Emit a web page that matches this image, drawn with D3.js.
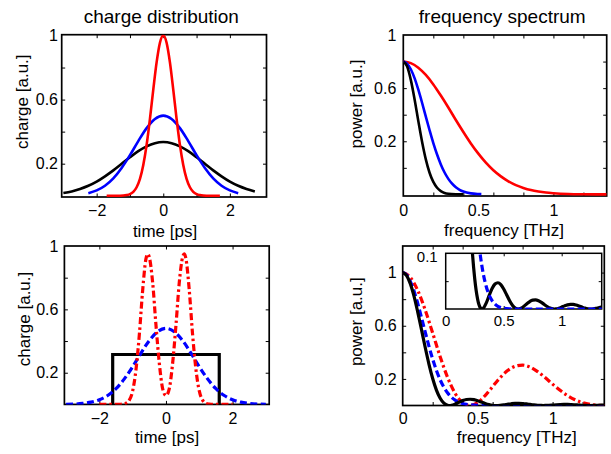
<!DOCTYPE html>
<html>
<head>
<meta charset="utf-8">
<script src="https://cdn.jsdelivr.net/npm/d3@7"></script>
<style>
  body { margin: 0; background: #fff; }
  svg { display: block; }
</style>
</head>
<body>
<svg id="chart" width="611" height="454"></svg>
<script>
// values

// top left: charge distribution
const tBlackTop = [-3, -2.75, -2.5, -2.25, -2, -1.75, -1.5, -1.25, -1, -0.75, -0.5, -0.25, 0,
                   0.25, 0.5, 0.75, 1, 1.25, 1.5, 1.75, 2, 2.25, 2.5, 2.75];
const qBlackTop = [0.017, 0.027, 0.042, 0.062, 0.088, 0.121, 0.158, 0.199, 0.240, 0.278, 0.308, 0.328, 0.335,
                   0.328, 0.308, 0.278, 0.240, 0.199, 0.158, 0.121, 0.088, 0.062, 0.042, 0.027];
const tBlueTop = [-2.25, -2, -1.75, -1.5, -1.25, -1, -0.75, -0.5, -0.25, 0,
                  0.25, 0.5, 0.75, 1, 1.25, 1.5, 1.75, 2, 2.25];
const qBlueTop = [0.016, 0.033, 0.062, 0.108, 0.173, 0.253, 0.341, 0.422, 0.479, 0.5,
                  0.479, 0.422, 0.341, 0.253, 0.173, 0.108, 0.062, 0.033, 0.016];
const tRedTop = [-1.7, -1.5, -1.3, -1.2, -1.1, -1, -0.9, -0.8, -0.7, -0.6, -0.5, -0.4, -0.3, -0.2, -0.1, 0,
                 0.1, 0.2, 0.3, 0.4, 0.5, 0.6, 0.7, 0.8, 0.9, 1, 1.1, 1.2, 1.3, 1.5, 1.7];
const qRedTop = [0, 0, 0, 0.001, 0.004, 0.010, 0.024, 0.053, 0.105, 0.192, 0.317, 0.480, 0.662, 0.832, 0.955, 1,
                 0.955, 0.832, 0.662, 0.480, 0.317, 0.192, 0.105, 0.053, 0.024, 0.010, 0.004, 0.001, 0, 0, 0];

// top right: frequency spectrum
const fBlackTop = [0, 0.025, 0.05, 0.075, 0.1, 0.125, 0.15, 0.175, 0.2, 0.225, 0.25, 0.275, 0.3, 0.35, 0.4];
const pBlackTop = [0.8, 0.764, 0.662, 0.517, 0.353, 0.197, 0.064, -0.037, -0.106, -0.150, -0.175, -0.189, -0.195, -0.199, -0.2];
const fBlueTop = [0, 0.025, 0.05, 0.075, 0.1, 0.125, 0.15, 0.175, 0.2, 0.225, 0.25, 0.275, 0.3, 0.325, 0.35,
                  0.375, 0.4, 0.45, 0.5, 0.52];
const pBlueTop = [0.8, 0.785, 0.742, 0.675, 0.588, 0.490, 0.385, 0.283, 0.186, 0.100, 0.026, -0.035, -0.083, -0.119, -0.146,
                  -0.165, -0.178, -0.192, -0.197, -0.198];
const fRedTop = [0, 0.05, 0.1, 0.15, 0.2, 0.25, 0.3, 0.35, 0.4, 0.45, 0.5, 0.55, 0.6, 0.65, 0.7, 0.75, 0.8,
                 0.85, 0.9, 0.95, 1, 1.1, 1.2, 1.355];
const pRedTop = [0.8, 0.788, 0.754, 0.699, 0.628, 0.544, 0.454, 0.360, 0.270, 0.184, 0.107, 0.039, -0.018, -0.064, -0.101, -0.130, -0.151,
                 -0.167, -0.178, -0.186, -0.191, -0.197, -0.199, -0.2];

// bottom left: flat top, gaussian and double peak
const tBlackBot = [-1.6, -1.6, 1.6, 1.6];
const qBlackBot = [0, 0.315, 0.315, 0];
const tBlueBot = [-3, -2.75, -2.5, -2.25, -2, -1.75, -1.5, -1.25, -1, -0.75, -0.5, -0.25, 0,
                  0.25, 0.5, 0.75, 1, 1.25, 1.5, 1.75, 2, 2.25, 2.5, 2.75, 3];
const qBlueBot = [0.001, 0.002, 0.006, 0.014, 0.029, 0.056, 0.099, 0.161, 0.238, 0.324, 0.403, 0.459, 0.48,
                  0.459, 0.403, 0.324, 0.238, 0.161, 0.099, 0.056, 0.029, 0.014, 0.006, 0.002, 0.001];
const tRedBot = [-2, -1.6, -1.4, -1.3, -1.2, -1.1, -1, -0.9, -0.8, -0.7, -0.6, -0.55, -0.5, -0.4, -0.3, -0.2, -0.1, 0,
                 0.1, 0.2, 0.3, 0.4, 0.5, 0.55, 0.6, 0.7, 0.8, 0.9, 1, 1.1, 1.2, 1.3, 1.4, 1.6, 2];
const qRedBot = [0, 0, 0, 0.002, 0.007, 0.027, 0.085, 0.22, 0.44, 0.72, 0.92, 0.95, 0.93, 0.77, 0.50, 0.26, 0.10, 0.055,
                 0.10, 0.26, 0.50, 0.77, 0.93, 0.95, 0.92, 0.72, 0.44, 0.22, 0.085, 0.027, 0.007, 0.002, 0, 0, 0];

// bottom right: spectra (also used by the inset)
const fBlackBot = [0, 0.025, 0.05, 0.075, 0.1, 0.125, 0.15, 0.175, 0.2, 0.225, 0.25, 0.275, 0.3, 0.3125, 0.325,
                   0.35, 0.375, 0.4, 0.425, 0.45, 0.475, 0.5, 0.525, 0.55, 0.575, 0.6, 0.625, 0.65, 0.675,
                   0.7, 0.725, 0.75, 0.775, 0.8, 0.825, 0.85, 0.875, 0.9, 0.925, 0.9375, 0.95, 0.975,
                   1, 1.025, 1.05, 1.075, 1.1, 1.125, 1.15, 1.175, 1.2, 1.225, 1.25, 1.275, 1.3, 1.325, 1.35];
const pBlackBot = [1, 0.979, 0.919, 0.825, 0.705, 0.573, 0.438, 0.312, 0.203, 0.116, 0.0547, 0.0177, 0.0017, 0, 0.0015,
                   0.0109, 0.0243, 0.0367, 0.0448, 0.0471, 0.0437, 0.0358, 0.0256, 0.0153, 0.0069, 0.0017, 0, 0.0015, 0.0050,
                   0.0095, 0.0134, 0.0159, 0.0164, 0.0149, 0.0119, 0.0081, 0.0045, 0.0017, 0.0002, 0, 0.0002, 0.0014,
                   0.0034, 0.0056, 0.0074, 0.0083, 0.0082, 0.0071, 0.0053, 0.0034, 0.0016, 0.0004, 0, 0.0004, 0.0014, 0.0026, 0.0039];
const fBlueBot = [0, 0.025, 0.05, 0.075, 0.1, 0.125, 0.15, 0.175, 0.2, 0.225, 0.25, 0.275, 0.3, 0.325, 0.35,
                  0.375, 0.4, 0.425, 0.45, 0.475, 0.5, 0.55, 0.6, 1.35];
const pBlueBot = [1, 0.984, 0.936, 0.863, 0.769, 0.663, 0.553, 0.447, 0.349, 0.264, 0.193, 0.137, 0.094, 0.062, 0.040,
                  0.025, 0.015, 0.0087, 0.0049, 0.0027, 0.0014, 0.0003, 0, 0];
const fRedBot = [0, 0.05, 0.1, 0.15, 0.2, 0.25, 0.3, 0.35, 0.4, 0.45, 0.5, 0.55, 0.6, 0.65, 0.7, 0.75, 0.8,
                 0.85, 0.9, 0.95, 1, 1.05, 1.1, 1.15, 1.2, 1.25, 1.3, 1.35];
const pRedBot = [1, 0.965, 0.867, 0.719, 0.545, 0.367, 0.210, 0.091, 0.021, 0.0001, 0.022, 0.075, 0.142, 0.209, 0.263, 0.295, 0.304,
                 0.289, 0.255, 0.210, 0.161, 0.114, 0.074, 0.043, 0.021, 0.008, 0.002, 0];

const FONT = '"Liberation Sans", Arial, Helvetica, sans-serif';
const svg = d3.select("#chart");
const fmt = d => (d < 0 ? "\u2212" + Math.abs(d) : String(d));
const zip = (xs, ys) => xs.map((v, i) => [v, ys[i]]);

// one set of axes: box, inward ticks on all sides, tick labels
function panel(o) {
  const x = d3.scaleLinear().domain(o.xDomain).range(o.xRange);
  const y = d3.scaleLinear().domain(o.yDomain).range(o.yRange);
  const [x0, x1] = o.xRange, [y0, y1] = o.yRange;
  const g = svg.append("g");

  svg.append("clipPath").attr("id", "clip-" + o.id)
    .append("rect").attr("x", x0).attr("y", y1).attr("width", x1 - x0).attr("height", y0 - y1);

  if (o.fill) g.append("rect").attr("x", x0).attr("y", y1).attr("width", x1 - x0).attr("height", y0 - y1).attr("fill", "#fff");

  const tk = o.tickLen || 3.5;
  [[d3.axisBottom(x).tickValues(o.xTicks), `translate(0,${y0})`],
   [d3.axisTop(x).tickValues(o.xTicks), `translate(0,${y1})`],
   [d3.axisLeft(y).tickValues(o.yTicks), `translate(${x0},0)`],
   [d3.axisRight(y).tickValues(o.yTicks), `translate(${x1},0)`]].forEach(([ax, tr]) => {
    g.append("g").attr("transform", tr)
      .call(ax.tickSize(-tk).tickFormat(""))
      .call(s => s.select(".domain").remove())
      .selectAll("line").attr("stroke", "#000").attr("stroke-width", 1);
  });

  g.append("rect").attr("x", x0).attr("y", y1).attr("width", x1 - x0).attr("height", y0 - y1)
    .attr("fill", "none").attr("stroke", "#000").attr("stroke-width", o.boxWidth || 1.7);

  // tick labels
  g.append("g").attr("transform", `translate(0,${y0})`)
    .call(d3.axisBottom(x).tickValues(o.xLabels).tickSize(0).tickPadding(o.xPad).tickFormat(fmt))
    .call(s => s.select(".domain").remove())
    .attr("font-size", o.tickFont).attr("font-family", FONT)
    .selectAll("text").attr("fill", "#000");
  g.append("g").attr("transform", `translate(${x0},0)`)
    .call(d3.axisLeft(y).tickValues(o.yLabels).tickSize(0).tickPadding(o.yPad).tickFormat(fmt))
    .call(s => s.select(".domain").remove())
    .attr("font-size", o.tickFont).attr("font-family", FONT)
    .selectAll("text").attr("fill", "#000").attr("dy", o.yDy || "0.32em");

  const plot = svg.append("g").attr("clip-path", `url(#clip-${o.id})`);
  return { x, y, plot };
}

function curve(p, xs, ys, color, width, dash, linear) {
  const line = d3.line()
    .x(d => p.x(d[0])).y(d => p.y(d[1]))
    .curve(linear ? d3.curveLinear : d3.curveMonotoneX);
  p.plot.append("path")
    .datum(zip(xs, ys))
    .attr("fill", "none")
    .attr("stroke", color)
    .attr("stroke-width", width)
    .attr("stroke-dasharray", dash || null)
    .attr("d", line);
}

function label(txt, x, y, size, rotate) {
  svg.append("text")
    .attr("transform", `translate(${x},${y})` + (rotate ? " rotate(-90)" : ""))
    .attr("text-anchor", "middle")
    .attr("font-family", FONT)
    .attr("font-size", size)
    .attr("fill", "#000")
    .text(txt);
}

const DASH = "7,3.5";
const DASHDOT = "7,3,2.5,3";

// top left
const pa = panel({
  id: "a", xDomain: [-3.05, 3.1], xRange: [61.7, 266.5], yDomain: [-0.008, 1.005], yRange: [197, 34.7],
  xTicks: [-2, -1, 0, 1, 2], yTicks: [0.2, 0.4, 0.6, 0.8], xLabels: [-2, 0, 2], yLabels: [0.2, 0.6, 1],
  xPad: 8, yPad: 3.7, tickFont: 16
});
curve(pa, tBlackTop, qBlackTop, "#000", 2.6);
curve(pa, tBlueTop, qBlueTop, "#0000ff", 2.6);
curve(pa, tRedTop, qRedTop, "#ff0000", 2.6);

// top right
const pb = panel({
  id: "b", xDomain: [0, 1.355], xRange: [403.3, 606.7], yDomain: [-0.212, 1], yRange: [196, 35],
  xTicks: [0.2, 0.4, 0.6, 0.8, 1, 1.2], yTicks: [0, 0.2, 0.4, 0.6, 0.8], xLabels: [0, 0.5, 1], yLabels: [0.2, 0.6, 1],
  xPad: 8.5, yPad: 7, tickFont: 16
});
curve(pb, fRedTop, pRedTop, "#ff0000", 2.6);
curve(pb, fBlueTop, pBlueTop, "#0000ff", 2.6);
curve(pb, fBlackTop, pBlackTop, "#000", 2.6);

// bottom left
const pc = panel({
  id: "c", xDomain: [-3.05, 3.1], xRange: [64.4, 269.2], yDomain: [0, 1], yRange: [404.4, 246],
  xTicks: [-2, 0, 2], yTicks: [0.2, 0.4, 0.6, 0.8], xLabels: [-2, 0, 2], yLabels: [0.2, 0.6, 1],
  xPad: 8, yPad: 6, tickFont: 16
});
curve(pc, tBlackBot, qBlackBot, "#000", 3.2, null, true);
curve(pc, tBlueBot, qBlueBot, "#0000ff", 3.2, DASH);
curve(pc, tRedBot, qRedBot, "#ff0000", 3.2, DASHDOT);

// bottom right
const pd = panel({
  id: "d", xDomain: [0, 1.345], xRange: [402.7, 604.3], yDomain: [0, 1.2], yRange: [405.5, 246],
  xTicks: [0.2, 0.4, 0.6, 0.8, 1, 1.2], yTicks: [0.2, 0.4, 0.6, 0.8, 1], xLabels: [0, 0.5, 1], yLabels: [0.2, 0.6, 1],
  xPad: 7, yPad: 6, tickFont: 16
});
curve(pd, fRedBot, pRedBot, "#ff0000", 3.2, DASHDOT);
curve(pd, fBlueBot, pBlueBot, "#0000ff", 3.2, DASH);
curve(pd, fBlackBot, pBlackBot, "#000", 3.2);

// inset: zoom on the low power tail
const pe = panel({
  id: "e", fill: true, xDomain: [0, 1.345], xRange: [445.7, 601.7], yDomain: [0, 0.1], yRange: [309, 253.3],
  xTicks: [0.5, 1], yTicks: [0.05], xLabels: [0, 0.5, 1], yLabels: [0.1],
  xPad: 6.3, yPad: 8, yDy: "0.55em", tickFont: 15, tickLen: 3, boxWidth: 1.5
});
curve(pe, fBlackBot, pBlackBot, "#000", 3.2);
curve(pe, fBlueBot, pBlueBot, "#0000ff", 3.2, DASH);

// titles and axis labels
label("charge distribution", 161.3, 23, 19);
label("frequency spectrum", 502.2, 23, 19);
label("time [ps]", 165, 236.5, 17);
label("frequency [THz]", 504, 236, 17);
label("charge [a.u.]", 27.5, 101.7, 17, true);
label("power [a.u.]", 362, 104, 17, true);
label("time [ps]", 167, 442.5, 17);
label("frequency [THz]", 516.7, 442.5, 17);
label("charge [a.u.]", 30, 319, 17, true);
label("power [a.u.]", 362, 321.7, 17, true);
</script>
</body>
</html>
